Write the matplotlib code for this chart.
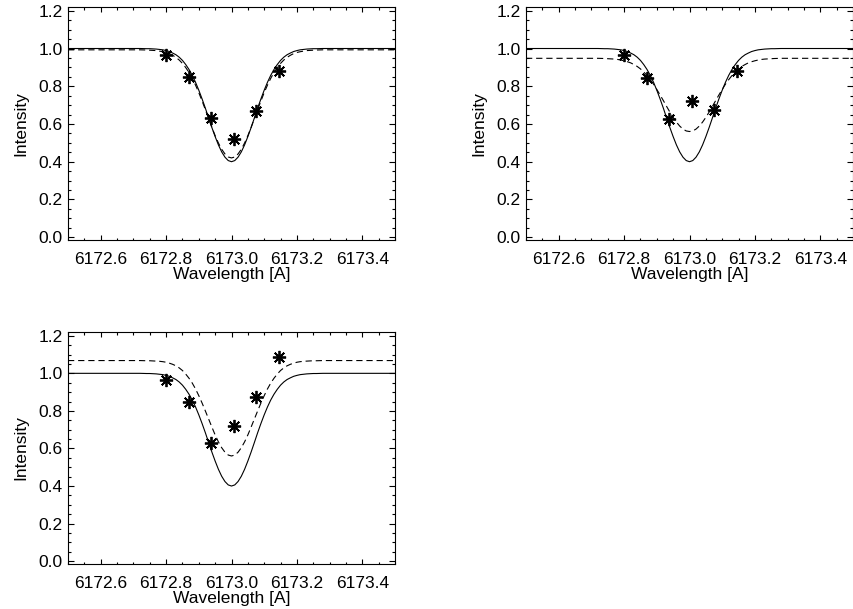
import matplotlib
matplotlib.use("Agg")
import matplotlib.pyplot as plt
from matplotlib.ticker import MultipleLocator, FixedLocator

plt.rcParams['font.family'] = ['Liberation Sans', 'DejaVu Sans']
plt.rcParams['lines.scale_dashes'] = False

# wavelength grid of the plotted profiles [A]
wavelength = [6172.50, 6172.60, 6172.66, 6172.70, 6172.72,
              6172.74, 6172.75, 6172.76, 6172.77, 6172.78, 6172.79, 6172.80, 6172.81,
              6172.82, 6172.83, 6172.84, 6172.85, 6172.86, 6172.87, 6172.88, 6172.89,
              6172.90, 6172.91, 6172.92, 6172.93, 6172.94, 6172.95, 6172.96, 6172.97,
              6172.98, 6172.99,
              6173.00,
              6173.01, 6173.02, 6173.03, 6173.04, 6173.05, 6173.06, 6173.07, 6173.08,
              6173.09, 6173.10, 6173.11, 6173.12, 6173.13, 6173.14, 6173.15, 6173.16,
              6173.17, 6173.18, 6173.19, 6173.20, 6173.21, 6173.22, 6173.23, 6173.24,
              6173.25, 6173.26,
              6173.28, 6173.30, 6173.34, 6173.40, 6173.50]

# solid profile (same in every panel)
solid_profile = [1.000, 1.000, 1.000, 1.000, 1.000,
                 0.999, 0.999, 0.998, 0.997, 0.995, 0.993, 0.989, 0.984, 0.976, 0.967,
                 0.954, 0.937, 0.915, 0.889, 0.858, 0.821, 0.779, 0.733, 0.684, 0.632,
                 0.581, 0.533, 0.489, 0.452, 0.424, 0.406,
                 0.400,
                 0.406, 0.424, 0.452, 0.489, 0.533, 0.581, 0.632, 0.684, 0.733, 0.779,
                 0.821, 0.858, 0.889, 0.915, 0.937, 0.954, 0.967, 0.976, 0.984, 0.989,
                 0.993, 0.995, 0.997, 0.998, 0.999, 0.999,
                 1.000, 1.000, 1.000, 1.000, 1.000]

# dashed profiles, one per panel
dashed_profile_1 = [0.993, 0.993, 0.993, 0.993, 0.993,
                    0.992, 0.991, 0.990, 0.989, 0.986, 0.983, 0.979, 0.973, 0.964, 0.953,
                    0.939, 0.921, 0.899, 0.873, 0.842, 0.806, 0.766, 0.722, 0.676, 0.629,
                    0.582, 0.538, 0.499, 0.466, 0.441, 0.425,
                    0.420,
                    0.425, 0.441, 0.466, 0.499, 0.538, 0.582, 0.629, 0.676, 0.722, 0.766,
                    0.806, 0.842, 0.873, 0.899, 0.921, 0.939, 0.953, 0.964, 0.973, 0.979,
                    0.983, 0.986, 0.989, 0.990, 0.991, 0.992,
                    0.993, 0.993, 0.993, 0.993, 0.993]

dashed_profile_2 = [0.948, 0.948, 0.948, 0.948, 0.948,
                    0.947, 0.946, 0.945, 0.944, 0.942, 0.939, 0.935, 0.930, 0.924, 0.915,
                    0.905, 0.892, 0.876, 0.857, 0.835, 0.811, 0.783, 0.754, 0.724, 0.693,
                    0.663, 0.635, 0.610, 0.589, 0.573, 0.563,
                    0.560,
                    0.563, 0.573, 0.589, 0.610, 0.635, 0.663, 0.693, 0.724, 0.754, 0.783,
                    0.811, 0.835, 0.857, 0.876, 0.892, 0.905, 0.915, 0.924, 0.930, 0.935,
                    0.939, 0.942, 0.944, 0.945, 0.946, 0.947,
                    0.948, 0.948, 0.948, 0.948, 0.948]

dashed_profile_3 = [1.068, 1.068, 1.068, 1.068, 1.068,
                    1.067, 1.067, 1.066, 1.065, 1.064, 1.062, 1.059, 1.054, 1.048, 1.040,
                    1.029, 1.015, 0.996, 0.974, 0.948, 0.917, 0.881, 0.842, 0.800, 0.757,
                    0.714, 0.672, 0.635, 0.604, 0.580, 0.565,
                    0.560,
                    0.565, 0.580, 0.604, 0.635, 0.672, 0.714, 0.757, 0.800, 0.842, 0.881,
                    0.917, 0.948, 0.974, 0.996, 1.015, 1.029, 1.040, 1.048, 1.054, 1.059,
                    1.062, 1.064, 1.065, 1.066, 1.067, 1.067,
                    1.068, 1.068, 1.068, 1.068, 1.068]

# observed points (asterisks)
obs_wavelength = [6172.800, 6172.869, 6172.938, 6173.007, 6173.075, 6173.144]
obs_intensity_1 = [0.965, 0.848, 0.630, 0.520, 0.670, 0.882]
obs_intensity_2 = [0.966, 0.845, 0.628, 0.721, 0.672, 0.880]
obs_intensity_3 = [0.965, 0.846, 0.627, 0.721, 0.873, 1.085]

x_ticks = [6172.6, 6172.8, 6173.0, 6173.2, 6173.4]
x_ticklabels = ['6172.6', '6172.8', '6173.0', '6173.2', '6173.4']
y_ticks = [0.0, 0.2, 0.4, 0.6, 0.8, 1.0, 1.2]
y_ticklabels = ['0.0', '0.2', '0.4', '0.6', '0.8', '1.0', '1.2']

W, H = 854, 609
fig = plt.figure(figsize=(W / 100, H / 100), dpi=100)

def box(l, t, r, b):
    return [l / W, 1 - b / H, (r - l) / W, (b - t) / H]

panels = [
    (box(68, 7, 395, 240), dashed_profile_1, obs_intensity_1),
    (box(526, 7, 853, 240), dashed_profile_2, obs_intensity_2),
    (box(68, 332, 395, 564), dashed_profile_3, obs_intensity_3),
]

FS = 12.5
for rect, dashed, obs in panels:
    ax = fig.add_axes(rect)
    ax.plot(wavelength, solid_profile, color='black', lw=0.8)
    ax.plot(wavelength, dashed, color='black', lw=0.8, linestyle=(0, (4.5, 2.8)))
    ax.plot(obs_wavelength, obs, linestyle='none', marker=(8, 2, 0),
            markersize=9.5, markeredgewidth=1.3, color='black')
    ax.set_xlim(6172.5, 6173.5)
    ax.set_ylim(-0.015, 1.22)
    ax.xaxis.set_major_locator(FixedLocator(x_ticks))
    ax.set_xticklabels(x_ticklabels)
    ax.yaxis.set_major_locator(FixedLocator(y_ticks))
    ax.set_yticklabels(y_ticklabels)
    ax.xaxis.set_minor_locator(MultipleLocator(0.05))
    ax.yaxis.set_minor_locator(MultipleLocator(0.05))
    ax.tick_params(axis='both', which='both', direction='in', top=True, right=True,
                   width=0.8, labelsize=FS, color='black')
    ax.tick_params(axis='x', which='major', length=3.6, pad=8.5)
    ax.tick_params(axis='x', which='minor', length=1.8)
    ax.tick_params(axis='y', which='major', length=4.6, pad=4)
    ax.tick_params(axis='y', which='minor', length=2.3)
    for s in ax.spines.values():
        s.set_linewidth(0.8)
    ax.set_xlabel('Wavelength [A]', fontsize=FS, labelpad=0.5)
    ax.set_ylabel('Intensity', fontsize=FS, labelpad=7)

fig.savefig('out.png', dpi=100)
